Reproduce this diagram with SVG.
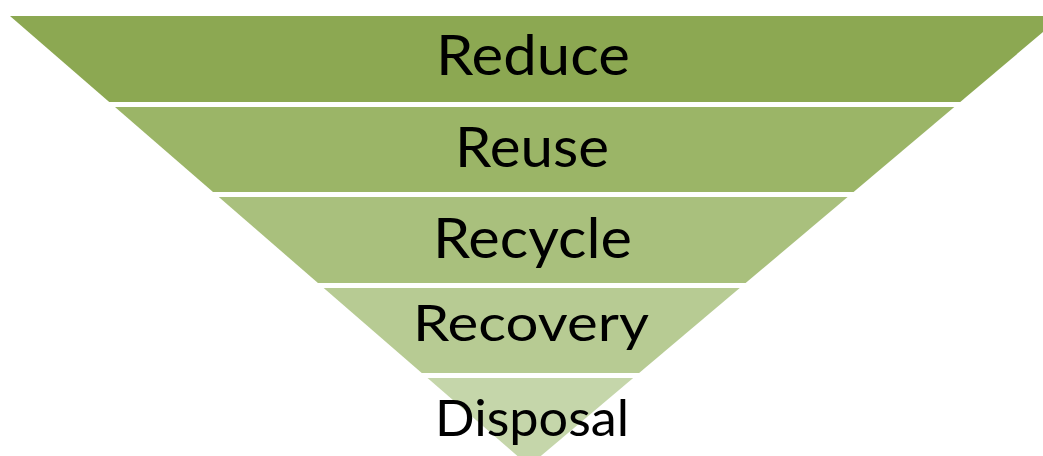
<svg xmlns="http://www.w3.org/2000/svg" width="1043" height="456" viewBox="0 0 1043 456">
  <style>
    .lbl { font-family: Lato, "Open Sans", "Liberation Sans", sans-serif; fill: #000000; text-anchor: middle; }
    .big { font-size: 56px; }
    .small { font-size: 50px; }
  </style>
  <defs>
    <clipPath id="tri">
      <polygon points="10,16 1062,16 529,466"/>
    </clipPath>
  </defs>
  <rect x="0" y="0" width="1043" height="456" fill="#ffffff"/>
  <g id="connectors"></g>
  <g clip-path="url(#tri)">
    <g id="reduce">
      <rect x="0" y="16" width="1070" height="86" fill="#8CA852"/>
    </g>
    <g id="reuse">
      <rect x="0" y="107" width="1070" height="85" fill="#9BB567"/>
    </g>
    <g id="recycle">
      <rect x="0" y="197" width="1070" height="86" fill="#A9C07D"/>
    </g>
    <g id="recovery">
      <rect x="0" y="288" width="1070" height="85" fill="#B7CB93"/>
    </g>
    <g id="disposal">
      <rect x="0" y="378" width="1070" height="90" fill="#C5D6AA"/>
    </g>
  </g>
  <g id="labels">
    <text class="lbl big" x="533" y="75" textLength="194" lengthAdjust="spacingAndGlyphs">Reduce</text>
    <text class="lbl big" x="532" y="167" textLength="154" lengthAdjust="spacingAndGlyphs">Reuse</text>
    <text class="lbl big" x="532.5" y="258" textLength="199" lengthAdjust="spacingAndGlyphs">Recycle</text>
    <text class="lbl small" x="531" y="341" textLength="236" lengthAdjust="spacingAndGlyphs">Recovery</text>
    <text class="lbl small" x="532" y="436" textLength="194" lengthAdjust="spacingAndGlyphs">Disposal</text>
  </g>
</svg>
